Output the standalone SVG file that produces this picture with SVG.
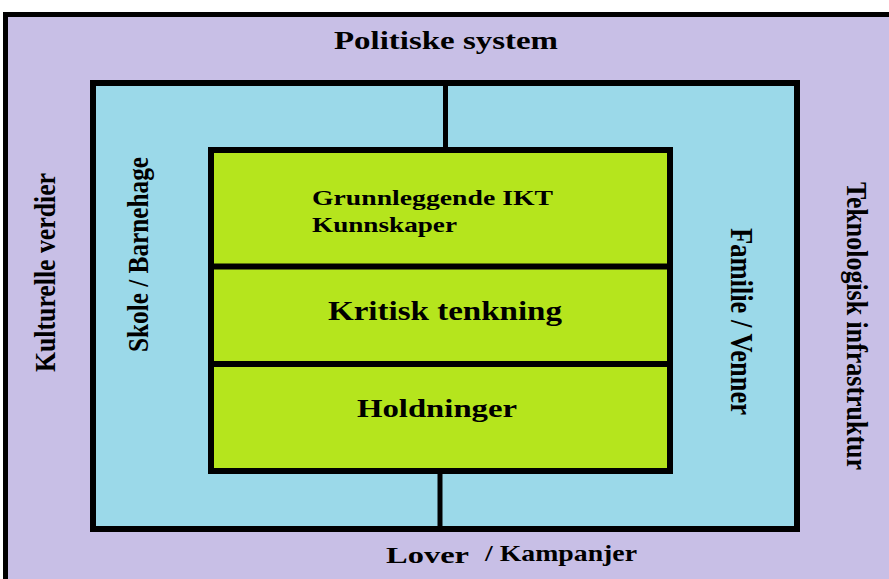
<svg xmlns="http://www.w3.org/2000/svg" width="889" height="579" viewBox="0 0 889 579">
<style>
.t{font-family:"Liberation Serif","Times New Roman",serif;font-weight:bold;fill:#000}
.box{stroke:#000;stroke-width:6}
</style>
<rect x="0" y="0" width="889" height="579" fill="#fff"/>
<g id="outer">
<rect x="5.5" y="14.5" width="920" height="600" fill="#C8BFE6" stroke="#000" stroke-width="5"/>
<text class="t" x="334" y="49" font-size="26" textLength="224" lengthAdjust="spacingAndGlyphs">Politiske system</text>
<text class="t" x="386" y="563" font-size="23" textLength="83" lengthAdjust="spacingAndGlyphs">Lover</text>
<text class="t" x="485" y="561" font-size="23" textLength="152" lengthAdjust="spacingAndGlyphs">/ Kampanjer</text>
<text class="t" font-size="30" textLength="199" lengthAdjust="spacingAndGlyphs" transform="translate(55,372) rotate(-90)">Kulturelle verdier</text>
<text class="t" font-size="30" textLength="288" lengthAdjust="spacingAndGlyphs" transform="translate(847,182) rotate(90)">Teknologisk infrastruktur</text>
</g>
<g id="middle">
<rect class="box" x="93" y="83" width="704" height="446" fill="#9BD9E9"/>
<text class="t" font-size="30" textLength="195" lengthAdjust="spacingAndGlyphs" transform="translate(148,352) rotate(-90)">Skole / Barnehage</text>
<text class="t" font-size="31" textLength="187" lengthAdjust="spacingAndGlyphs" transform="translate(731,228) rotate(90)">Familie / Venner</text>
</g>
<g id="connectors">
<line x1="445.5" y1="84" x2="445.5" y2="152" stroke="#000" stroke-width="5"/>
<line x1="440" y1="470" x2="440" y2="528" stroke="#000" stroke-width="5"/>
</g>
<g id="core">
<rect class="box" x="211" y="150" width="459" height="321" fill="#B5E51D"/>
<line x1="211" y1="266.5" x2="670" y2="266.5" stroke="#000" stroke-width="6"/>
<line x1="208" y1="364" x2="670" y2="364" stroke="#000" stroke-width="6"/>
</g>
<g id="ikt">
<text class="t" x="312" y="205" font-size="21" textLength="241" lengthAdjust="spacingAndGlyphs">Grunnleggende IKT</text>
<text class="t" x="312" y="232" font-size="21" textLength="145" lengthAdjust="spacingAndGlyphs">Kunnskaper</text>
</g>
<g id="kritisk">
<text class="t" x="328" y="320" font-size="27" textLength="234" lengthAdjust="spacingAndGlyphs">Kritisk tenkning</text>
</g>
<g id="holdninger">
<text class="t" x="357" y="417" font-size="26" textLength="160" lengthAdjust="spacingAndGlyphs">Holdninger</text>
</g>
</svg>
